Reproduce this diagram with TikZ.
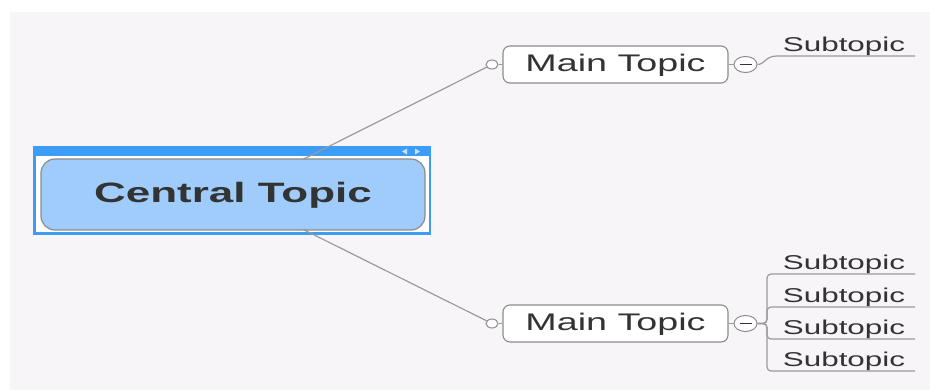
\documentclass[tikz,border=0pt]{standalone}
\usepackage{fontspec}
\setmainfont{Liberation Sans}
\newfontfamily\wide[FakeStretch=1.57]{Liberation Sans}
\usetikzlibrary{shapes.geometric}

\definecolor{canvas}{HTML}{F8F5F8}
\definecolor{selblue}{HTML}{3D9CF6}
\definecolor{topicfill}{HTML}{9FCCFB}
\definecolor{edge}{HTML}{9B9B9B}
\definecolor{boxline}{HTML}{8C8C8C}
\definecolor{ink}{HTML}{333333}
\definecolor{tick}{HTML}{C9E1FB}

\tikzset{
  centraltopic/.style={draw=boxline, line width=1.2pt, fill=topicfill,
    rounded corners=14pt, minimum width=384pt, minimum height=71pt,
    inner sep=0pt, text=ink, font=\wide\bfseries\fontsize{28}{30}\selectfont,
    text height=23pt, text depth=6pt},
  maintopic/.style={draw=boxline, line width=1.1pt, fill=white,
    rounded corners=7pt, minimum width=225pt, minimum height=37pt,
    inner sep=0pt, text=ink, font=\wide\fontsize{24}{26}\selectfont,
    text height=19pt, text depth=5pt},
  knob/.style={ellipse, draw=boxline, fill=white, line width=1pt,
    minimum width=12pt, minimum height=9pt, inner sep=0pt},
  fold/.style={ellipse, draw=boxline, fill=white, line width=1pt,
    minimum width=23pt, minimum height=16pt, inner sep=0pt,
    path picture={\draw[ink, line width=1.2pt]
      ([xshift=-6pt]path picture bounding box.center) --
      ([xshift=6pt]path picture bounding box.center);}},
  subtopic/.style={text=ink, font=\wide\fontsize{20}{22}\selectfont,
    inner sep=0pt, anchor=base},
  conn/.style={draw=edge, line width=1.2pt},
}

\begin{document}
\begin{tikzpicture}[x=1pt, y=-1pt]
  \useasboundingbox (0,0) rectangle (930,390);
  % page and canvas
  \fill[white] (0,0) rectangle (930,390);
  \fill[canvas] (10,12) rectangle (930,390);

  % selection frame around the central topic
  \fill[selblue] (33,146) rectangle (431,235);
  \fill[white] (35.5,156) rectangle (428.5,232.5);
  \fill[tick] (402,151.5) -- (407,148.5) -- (407,154.5) -- cycle;
  \fill[tick] (420,151.5) -- (415,148.5) -- (415,154.5) -- cycle;

  \coordinate (cc) at (233,194.5);

  % attachment knobs of the main topics
  \node[knob] (k1) at (492,64.5) {};
  \node[knob] (k2) at (492,323.5) {};

  % branches from the central topic
  \draw[conn] (cc) -- (k1);
  \draw[conn] (cc) -- (k2);

  \node[centraltopic] (central) at (cc) {Central Topic};

  % main topics
  \node[maintopic] (m1) at (615.5,64.5) {Main Topic};
  \node[maintopic] (m2) at (615.5,323.5) {Main Topic};
  \draw[conn] (k1) -- (m1);
  \draw[conn] (k2) -- (m2);

  % collapse buttons
  \node[fold] (f1) at (745.5,64.5) {};
  \node[fold] (f2) at (745.5,323.5) {};
  \draw[conn] (m1) -- (f1);
  \draw[conn] (m2) -- (f2);

  % subtopic underline ends
  \coordinate (e0) at (915,56);
  \coordinate (e1) at (915,274);
  \coordinate (e2) at (915,307);
  \coordinate (e3) at (915,339);
  \coordinate (e4) at (915,371);

  % upper subtopic
  \draw[conn] (f1.east) .. controls (765,64.5) and (765,56) .. (777,56) -- (e0);
  \node[subtopic] (s0) at (844,51.5) {Subtopic};

  % lower subtopics
  \draw[conn, rounded corners=4pt] (f2.east) -- (767,323.5) |- (e1);
  \draw[conn, rounded corners=4pt] (f2.east) -- (767,323.5) |- (e2);
  \draw[conn, rounded corners=4pt] (f2.east) -- (767,323.5) |- (e3);
  \draw[conn, rounded corners=4pt] (f2.east) -- (767,323.5) |- (e4);
  \node[subtopic] (s1) at (844,269.5) {Subtopic};
  \node[subtopic] (s2) at (844,302.5) {Subtopic};
  \node[subtopic] (s3) at (844,334.5) {Subtopic};
  \node[subtopic] (s4) at (844,366.5) {Subtopic};
\end{tikzpicture}
\end{document}
